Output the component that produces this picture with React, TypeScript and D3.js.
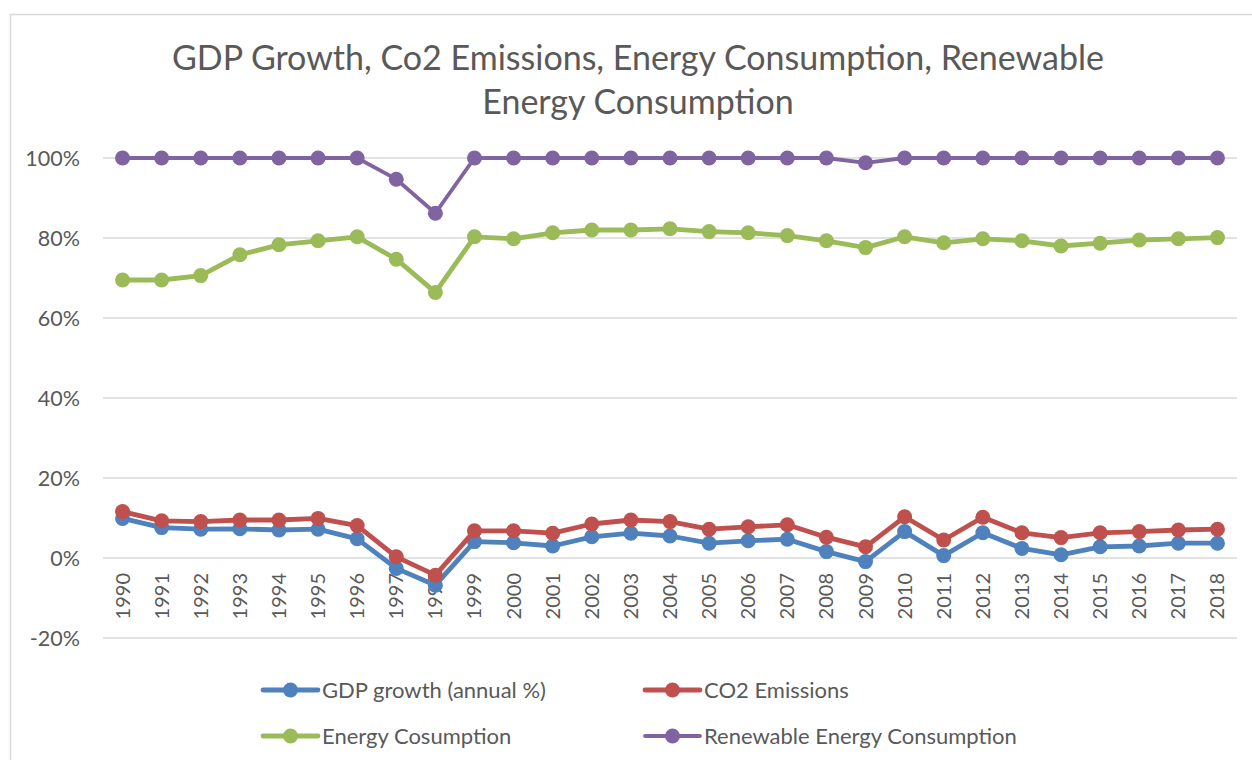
import React from "react";
import * as d3 from "d3";

const years = [
  "1990", "1991", "1992", "1993", "1994", "1995", "1996", "1997", "1998", "1999",
  "2000", "2001", "2002", "2003", "2004", "2005", "2006", "2007", "2008", "2009",
  "2010", "2011", "2012", "2013", "2014", "2015", "2016", "2017", "2018",
];

// values in %
const gdpGrowth = [
  9.9, 7.6, 7.2, 7.3, 7.0, 7.2, 4.8, -2.6, -6.8, 4.1,
  3.8, 3.0, 5.3, 6.2, 5.5, 3.7, 4.3, 4.7, 1.6, -0.9,
  6.6, 0.6, 6.3, 2.4, 0.8, 2.8, 3.0, 3.7, 3.7,
];
const co2Emissions = [
  11.6, 9.3, 9.1, 9.5, 9.5, 9.9, 8.1, 0.3, -4.3, 6.8,
  6.8, 6.2, 8.5, 9.5, 9.1, 7.2, 7.8, 8.3, 5.2, 2.8,
  10.3, 4.5, 10.2, 6.3, 5.1, 6.3, 6.6, 7.0, 7.2,
];
const energyConsumption = [
  69.5, 69.5, 70.6, 75.8, 78.3, 79.3, 80.3, 74.7, 66.4, 80.3,
  79.8, 81.3, 82.0, 82.0, 82.3, 81.6, 81.3, 80.6, 79.3, 77.6,
  80.3, 78.8, 79.8, 79.3, 78.0, 78.7, 79.5, 79.8, 80.1,
];
const renewableConsumption = [
  100, 100, 100, 100, 100, 100, 100, 94.7, 86.2, 100,
  100, 100, 100, 100, 100, 100, 100, 100, 100, 98.8,
  100, 100, 100, 100, 100, 100, 100, 100, 100,
];
const yTicks = [-20, 0, 20, 40, 60, 80, 100];

const series = [
  { name: "GDP growth (annual %)", values: gdpGrowth, color: "#4F81BD", width: 4.8, r: 7.5 },
  { name: "CO2 Emissions", values: co2Emissions, color: "#C0504D", width: 4.8, r: 7.5 },
  { name: "Energy Cosumption", values: energyConsumption, color: "#9BBB59", width: 4.8, r: 7.5 },
  { name: "Renewable Energy Consumption", values: renewableConsumption, color: "#8064A2", width: 3.8, r: 7.5 },
];

const W = 1252;
const H = 760;
const FONT = "Lato, 'Open Sans', sans-serif";
const TEXT = "#595959";
const pct = (t: number) => `${t}%`;

export default function App() {
  const x = d3.scaleBand<string>().domain(years).range([103, 1237]);
  const y = d3.scaleLinear().domain([-20, 100]).range([638, 158]);
  const cx = (yr: string) => (x(yr) as number) + x.bandwidth() / 2;
  const line = d3
    .line<number>()
    .x((_, i) => cx(years[i]))
    .y((d) => y(d));

  const legendPos = [
    { lx: 263, ly: 690 },
    { lx: 645, ly: 690 },
    { lx: 263, ly: 736 },
    { lx: 645, ly: 736 },
  ];

  return (
    <div style={{ position: "absolute", left: 0, top: 0 }}>
      <svg width={W} height={H} style={{ display: "block", fontFamily: FONT }}>
        <rect x={0} y={0} width={W} height={H} fill="#fff" />
        <rect x={10.5} y={14.5} width={W + 20} height={H + 20} fill="none" stroke="#d9d9d9" strokeWidth={1.5} />

        <text x={638} y={70} textAnchor="middle" fontSize={34} fill={TEXT}>
          GDP Growth, Co2 Emissions, Energy Consumption, Renewable
        </text>
        <text x={638} y={114} textAnchor="middle" fontSize={34} fill={TEXT}>
          Energy Consumption
        </text>

        {yTicks.map((t) => (
          <g key={t}>
            <line x1={103} x2={1237} y1={y(t)} y2={y(t)} stroke="#d9d9d9" strokeWidth={1.5} />
            <text x={80} y={y(t)} dy="0.35em" textAnchor="end" fontSize={21.5} fill={TEXT}>
              {pct(t)}
            </text>
          </g>
        ))}

        {years.map((yr) => (
          <text
            key={yr}
            transform={`translate(${cx(yr)},${y(0) + 15}) rotate(-90)`}
            textAnchor="end"
            dy="0.35em"
            fontSize={20}
            fill={TEXT}
          >
            {yr}
          </text>
        ))}

        {series.map((s) => (
          <g key={s.name}>
            <path d={line(s.values) as string} fill="none" stroke={s.color} strokeWidth={s.width} strokeLinejoin="round" />
            {s.values.map((v, i) => (
              <circle key={i} cx={cx(years[i])} cy={y(v)} r={s.r} fill={s.color} />
            ))}
          </g>
        ))}

        {series.map((s, i) => {
          const p = legendPos[i];
          return (
            <g key={s.name} transform={`translate(${p.lx},${p.ly})`}>
              <line x1={0} x2={55} y1={0} y2={0} stroke={s.color} strokeWidth={s.width} strokeLinecap="round" />
              <circle cx={27.5} cy={0} r={s.r} fill={s.color} />
              <text x={59} y={0} dy="0.35em" fontSize={22} fill={TEXT}>
                {s.name}
              </text>
            </g>
          );
        })}
      </svg>
    </div>
  );
}
